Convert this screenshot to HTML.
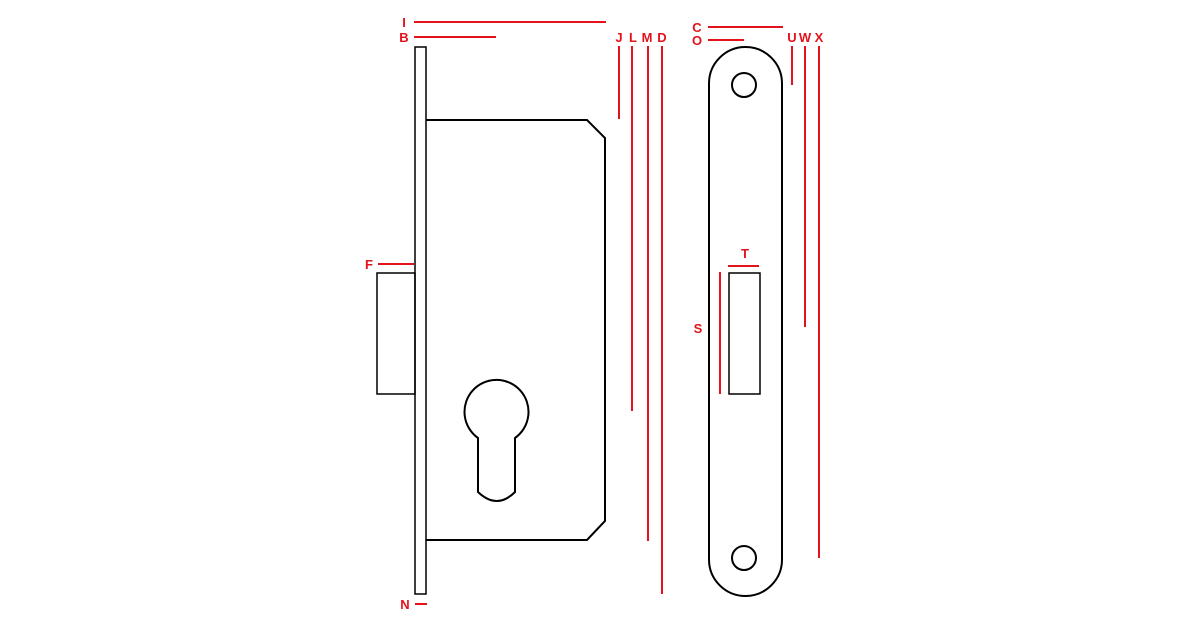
<!DOCTYPE html>
<html><head><meta charset="utf-8"><style>
html,body{margin:0;padding:0;background:#fff;}
svg{display:block}
text{font-family:"Liberation Sans",sans-serif;font-weight:bold;font-size:13px;fill:#e3121b;text-anchor:middle}
</style></head><body>
<svg width="1200" height="630" viewBox="0 0 1200 630" xmlns="http://www.w3.org/2000/svg">
<g fill="none" stroke="#000" stroke-width="1.5">
<rect x="415" y="47" width="11" height="547"/>
<path d="M426 120 H587 L605 138 V521 L587 540 H426" stroke-width="2"/>
<rect x="377" y="273" width="38" height="121"/>
<path d="M478 438 A32 32 0 1 1 515 438 V492 Q497 510 478 492 Z" stroke-width="2"/>
<rect x="709" y="47" width="73" height="549" rx="36.5" ry="36.5" stroke-width="2"/>
<circle cx="744" cy="85" r="12" stroke-width="2"/>
<circle cx="744" cy="558" r="12" stroke-width="2"/>
<rect x="729" y="273" width="31" height="121"/>
</g>
<g stroke="#e3121b" stroke-width="2">
<line x1="414" y1="22" x2="606" y2="22"/>
<line x1="414" y1="37" x2="496" y2="37"/>
<line x1="619" y1="46" x2="619" y2="119"/>
<line x1="632" y1="46" x2="632" y2="411"/>
<line x1="648" y1="46" x2="648" y2="541"/>
<line x1="662" y1="46" x2="662" y2="594"/>
<line x1="708" y1="27" x2="783" y2="27"/>
<line x1="708" y1="40" x2="744" y2="40"/>
<line x1="792" y1="46" x2="792" y2="85"/>
<line x1="805" y1="46" x2="805" y2="327"/>
<line x1="819" y1="46" x2="819" y2="558"/>
<line x1="378" y1="264" x2="414" y2="264"/>
<line x1="415" y1="604" x2="427" y2="604"/>
<line x1="728" y1="266" x2="759" y2="266"/>
<line x1="720" y1="272" x2="720" y2="394"/>
</g>
<text x="404" y="27">I</text>
<text x="404" y="42">B</text>
<text x="619" y="42">J</text>
<text x="633" y="42">L</text>
<text x="647" y="42">M</text>
<text x="662" y="42">D</text>
<text x="697" y="32">C</text>
<text x="697" y="45">O</text>
<text x="792" y="42">U</text>
<text x="805" y="42">W</text>
<text x="819" y="42">X</text>
<text x="369" y="269">F</text>
<text x="405" y="609">N</text>
<text x="745" y="258">T</text>
<text x="698" y="333">S</text>
</svg>
</body></html>
